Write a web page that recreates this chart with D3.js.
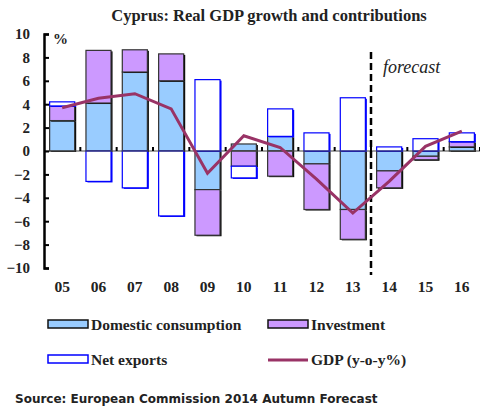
<!DOCTYPE html>
<html>
<head>
<meta charset="utf-8">
<script src="https://cdn.jsdelivr.net/npm/d3@7"></script>
<style>
  body { margin: 0; background: #fff; }
  svg text { fill: #222; }
</style>
</head>
<body>
<div id="chart"></div>
<script>
// chart data
var years = ["05", "06", "07", "08", "09", "10", "11", "12", "13", "14", "15", "16"];
var domestic = [2.6, 4.1, 6.75, 6.0, -3.3, 0.6, 1.25, -1.1, -5.0, -1.7, -0.45, 0.35];
var investment = [1.25, 4.5, 1.9, 2.3, -3.9, -1.3, -2.15, -3.9, -2.55, -1.45, -0.3, 0.45];
var netExports = [0.35, -2.6, -3.15, -5.55, 6.1, -1.0, 2.35, 1.55, 4.55, 0.35, 1.05, 0.75];
var gdp = [3.7, 4.5, 4.9, 3.6, -1.9, 1.3, 0.3, -2.4, -5.3, -2.6, 0.4, 1.7];
var yTicks = [-10, -8, -6, -4, -2, 0, 2, 4, 6, 8, 10];

var series = [
  {key: "dom", name: "Domestic consumption", values: domestic, fill: "#99ccff", stroke: "#333333"},
  {key: "inv", name: "Investment", values: investment, fill: "#cc99ff", stroke: "#333333"},
  {key: "nx", name: "Net exports", values: netExports, fill: "#ffffff", stroke: "#0000ff"}
];

var W = 480, H = 407;
var margin = {top: 34, right: 0, bottom: 139, left: 44};
var width = W - margin.left - margin.right,
    height = H - margin.top - margin.bottom;

var serif = "Liberation Serif, serif";

var svg = d3.select("#chart").append("svg")
  .attr("width", W)
  .attr("height", H);

// title
svg.append("text")
  .attr("x", 269)
  .attr("y", 21)
  .attr("text-anchor", "middle")
  .style("font-family", serif)
  .style("font-weight", "bold")
  .style("font-size", "16.5px")
  .text("Cyprus: Real GDP growth and contributions");

var plot = svg.append("g")
  .attr("transform", "translate(" + margin.left + "," + margin.top + ")");

var x = d3.scaleBand()
  .domain(years)
  .range([0, width])
  .paddingInner(0.31)
  .paddingOuter(0.155);

var y = d3.scaleLinear()
  .domain([-10, 10])
  .range([height, 0]);

// build stacked table, diverging so negatives go down
var table = years.map(function(yr, i) {
  var row = {year: yr};
  series.forEach(function(s) { row[s.key] = s.values[i]; });
  return row;
});

var stacked = d3.stack()
  .keys(series.map(function(s) { return s.key; }))
  .offset(d3.stackOffsetDiverging)(table);

stacked.forEach(function(layer, li) {
  var s = series[li];
  var g = plot.append("g");
  // shadow on right edge
  g.selectAll("rect.shadow")
    .data(layer)
    .enter().append("rect")
    .attr("x", function(d) { return x(d.data.year) + 1.5; })
    .attr("y", function(d) { return Math.min(y(d[0]), y(d[1])) + 1; })
    .attr("width", x.bandwidth())
    .attr("height", function(d) { return Math.abs(y(d[0]) - y(d[1])); })
    .style("fill", s.key == "nx" ? "#0000ff" : "#000");
  g.selectAll("rect.bar")
    .data(layer)
    .enter().append("rect")
    .attr("x", function(d) { return x(d.data.year); })
    .attr("y", function(d) { return Math.min(y(d[0]), y(d[1])); })
    .attr("width", x.bandwidth())
    .attr("height", function(d) { return Math.abs(y(d[0]) - y(d[1])); })
    .style("fill", s.fill)
    .style("stroke", s.stroke)
    .style("stroke-width", 1.2);
});

// zero line with small ticks between categories
plot.append("line")
  .attr("x1", 0).attr("x2", width)
  .attr("y1", y(0)).attr("y2", y(0))
  .style("stroke", "#444")
  .style("stroke-width", 1.2);

plot.selectAll(".ctick")
  .data(years)
  .enter().append("line")
  .attr("x1", function(d) { return x(d) + x.bandwidth() + x.step() * x.paddingInner() / 2; })
  .attr("x2", function(d) { return x(d) + x.bandwidth() + x.step() * x.paddingInner() / 2; })
  .attr("y1", y(0))
  .attr("y2", y(0) - 4)
  .style("stroke", "#000")
  .style("stroke-width", 2);

// category labels
plot.selectAll(".xlab")
  .data(years)
  .enter().append("text")
  .attr("x", function(d) { return x(d) + x.bandwidth() / 2; })
  .attr("y", height + 24)
  .attr("text-anchor", "middle")
  .style("font-family", serif)
  .style("font-weight", "bold")
  .style("font-size", "15.5px")
  .text(function(d) { return d; });

// y axis
var yAxis = d3.axisLeft(y)
  .tickValues(yTicks)
  .tickSize(-5)
  .tickPadding(14);

var yg = plot.append("g").call(yAxis);
yg.select(".domain").style("stroke", "#000").style("stroke-width", 2.5);
yg.selectAll(".tick line").style("stroke", "#000").style("stroke-width", 2);
yg.selectAll(".tick text")
  .style("font-family", serif)
  .style("font-weight", "bold")
  .style("font-size", "15px")
  .style("fill", "#222");

plot.append("text")
  .attr("x", 9)
  .attr("y", 10)
  .style("font-family", serif)
  .style("font-weight", "bold")
  .style("font-size", "15px")
  .text("%");

// forecast divider
var divX = x("14") - x.step() * x.paddingInner() / 2;
plot.append("line")
  .attr("x1", divX).attr("x2", divX)
  .attr("y1", 18).attr("y2", height + 7)
  .style("stroke", "#000")
  .style("stroke-width", 2.5)
  .style("stroke-dasharray", "7,4");

plot.append("text")
  .attr("x", divX + 12)
  .attr("y", 39)
  .style("font-family", serif)
  .style("font-style", "italic")
  .style("font-size", "18px")
  .text("forecast");

// GDP line
var line = d3.line()
  .x(function(d, i) { return x(years[i]) + x.bandwidth() / 2; })
  .y(function(d) { return y(d); });

plot.append("path")
  .datum(gdp)
  .attr("d", line)
  .style("fill", "none")
  .style("stroke", "#993366")
  .style("stroke-width", 3);

// legend
var legendItems = [
  {name: "Domestic consumption", type: "box", s: series[0], x: 48, y: 320},
  {name: "Investment", type: "box", s: series[1], x: 268, y: 320},
  {name: "Net exports", type: "box", s: series[2], x: 48, y: 355},
  {name: "GDP (y-o-y%)", type: "line", x: 268, y: 355}
];

var legend = svg.selectAll(".legend")
  .data(legendItems)
  .enter().append("g")
  .attr("class", "legend")
  .attr("transform", function(d) { return "translate(" + d.x + "," + d.y + ")"; });

legend.each(function(d) {
  var g = d3.select(this);
  if (d.type == "box") {
    g.append("rect")
      .attr("x", 0).attr("y", 0)
      .attr("width", 40).attr("height", 8)
      .style("fill", d.s.fill)
      .style("stroke", d.s.key == "nx" ? "#0000ff" : "#111")
      .style("stroke-width", 1.5);
  } else {
    g.append("line")
      .attr("x1", 0).attr("x2", 40)
      .attr("y1", 5).attr("y2", 5)
      .style("stroke", "#993366")
      .style("stroke-width", 3);
  }
  g.append("text")
    .attr("x", 43)
    .attr("y", 10)
    .style("font-family", serif)
    .style("font-weight", "bold")
    .style("font-size", "15.5px")
    .text(d.name);
});

// source note
svg.append("text")
  .attr("x", 15)
  .attr("y", 403)
  .style("font-family", "DejaVu Sans, sans-serif")
  .style("font-size", "12px")
  .style("font-weight", "bold")
  .style("fill", "#222")
  .text("Source: European Commission 2014 Autumn Forecast");
</script>
</body>
</html>
